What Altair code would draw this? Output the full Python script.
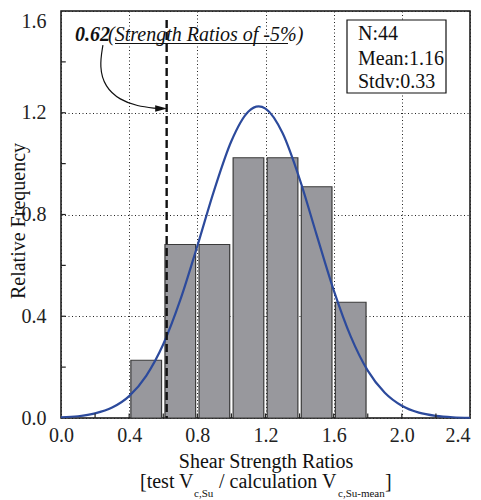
import altair as alt
import pandas as pd

# ---------------- data ----------------
bin_start = [0.4, 0.6, 0.8, 1.0, 1.2, 1.4, 1.6]
bin_end = [0.6, 0.8, 1.0, 1.2, 1.4, 1.6, 1.8]
rel_freq = [0.227, 0.682, 0.682, 1.023, 1.023, 0.909, 0.455]

curve_x = [0.0, 0.1, 0.2, 0.3, 0.4, 0.5, 0.6, 0.7, 0.8, 0.9, 1.0, 1.1, 1.16,
           1.2, 1.3, 1.4, 1.5, 1.6, 1.7, 1.8, 1.9, 2.0, 2.1, 2.2, 2.3, 2.4]
curve_y = [0.003, 0.007, 0.018, 0.041, 0.086, 0.166, 0.29, 0.464, 0.676, 0.898,
           1.089, 1.205, 1.225, 1.216, 1.12, 0.94, 0.72, 0.503, 0.321, 0.186,
           0.099, 0.048, 0.021, 0.0085, 0.003, 0.001]

x_major = [0.0, 0.4, 0.8, 1.2, 1.6, 2.0, 2.4]
y_major = [0.0, 0.4, 0.8, 1.2, 1.6]
x_minor = [0.2, 0.4, 0.6, 0.8, 1.0, 1.2, 1.4, 1.6, 1.8, 2.0, 2.2]
y_minor = [0.2, 0.4, 0.6, 0.8, 1.0, 1.2, 1.4]

p05_value = 0.62
p05_top = 1.565

arrow_x = [0.246, 0.225, 0.258, 0.346, 0.446, 0.563]
arrow_y = [1.466, 1.380, 1.301, 1.250, 1.226, 1.217]
arrow_tip = (0.588, 1.217)

stats_lines = ["N:44", "Mean:1.16", "Stdv:0.33"]

# ---------------- styling ----------------
FONT = "Times New Roman, Liberation Serif, DejaVu Serif, serif"
W, H = 409, 407
BAR_GAP = 0.01
TICK_X_LEN = 0.018
TICK_Y_LEN = 0.028
XS = alt.Scale(domain=[0, 2.4], nice=False, zero=False)
YS = alt.Scale(domain=[0, 1.6], nice=False, zero=False)

AX = alt.Axis(values=x_major, format=".1f", title=None, grid=True, gridDash=[1, 2.5],
              gridColor="#222", gridWidth=1, ticks=False, domain=False, labelFlush=False,
              labelAlign={"condition": {"test": "datum.value >= 2.39", "value": "right"}, "value": "center"},
              labelFont=FONT, labelFontSize=20, labelColor="#222", labelPadding=7)
AY = alt.Axis(values=y_major, format=".1f", title=None, grid=True, gridDash=[1, 2.5],
              gridColor="#222", gridWidth=1, ticks=False, domain=False, labelFlush=False,
              labelBaseline={"condition": {"test": "datum.value >= 1.59", "value": "top"}, "value": "middle"},
              labelFont=FONT, labelFontSize=20, labelColor="#222", labelPadding=15)

bars_df = pd.DataFrame({
    "x0": [s + BAR_GAP for s in bin_start],
    "x1": [e - BAR_GAP for e in bin_end],
    "h": rel_freq,
    "b": [0.0] * len(rel_freq),
})
bars = alt.Chart(bars_df).mark_rect(fill="#98989d", stroke="#3a3a3a", strokeWidth=1.2).encode(
    x=alt.X("x0:Q", scale=XS, axis=AX),
    x2="x1:Q",
    y=alt.Y("h:Q", scale=YS, axis=AY),
    y2="b:Q",
)

curve = alt.Chart(pd.DataFrame({"cx": curve_x, "cy": curve_y})).mark_line(
    color="#2c4a9c", strokeWidth=2.2, interpolate="monotone").encode(
    x=alt.X("cx:Q", scale=XS, axis=AX),
    y=alt.Y("cy:Q", scale=YS, axis=AY),
)

dash = alt.Chart(pd.DataFrame({"v": [p05_value], "t": [p05_top], "b": [0.0]})).mark_rule(
    color="#111", strokeWidth=2.4, strokeDash=[8, 4]).encode(
    x=alt.X("v:Q", scale=XS, axis=AX),
    y=alt.Y("t:Q", scale=YS, axis=AY),
    y2="b:Q",
)

arrow = alt.Chart(pd.DataFrame({"ax": arrow_x, "ay": arrow_y, "i": list(range(len(arrow_x)))})).mark_line(
    color="#111", strokeWidth=1.2, interpolate="basis").encode(
    x=alt.X("ax:Q", scale=XS, axis=AX),
    y=alt.Y("ay:Q", scale=YS, axis=AY),
    order="i:Q",
)
head = alt.Chart(pd.DataFrame({"hx": [arrow_tip[0]], "hy": [arrow_tip[1]]})).mark_point(
    shape="M-1,-0.55L1,0L-1,0.55Z", size=144, filled=True, color="#111", opacity=1).encode(
    x=alt.X("hx:Q", scale=XS, axis=AX),
    y=alt.Y("hy:Q", scale=YS, axis=AY),
)

xt = alt.Chart(pd.DataFrame({"v": x_minor, "a": [0.0] * len(x_minor), "e": [TICK_X_LEN] * len(x_minor)})).mark_rule(
    color="#222", strokeWidth=1.2).encode(
    x=alt.X("v:Q", scale=XS, axis=AX), y=alt.Y("e:Q", scale=YS, axis=AY), y2="a:Q")
yt = alt.Chart(pd.DataFrame({"v": y_minor, "a": [0.0] * len(y_minor), "e": [TICK_Y_LEN] * len(y_minor)})).mark_rule(
    color="#222", strokeWidth=1.2).encode(
    y=alt.Y("v:Q", scale=YS, axis=AY), x=alt.X("e:Q", scale=XS, axis=AX), x2="a:Q")

one = pd.DataFrame({"a": [0]})

def txt(s, x, y, size=20, **kw):
    return alt.Chart(one).mark_text(text=s, font=FONT, fontSize=size, align="left",
                                    baseline="alphabetic", color="#111", **kw).encode(
        x=alt.value(x), y=alt.value(y))

ann1 = txt("0.62", 14, 30, size=20, fontWeight="bold", fontStyle="italic")
ann2 = txt("(Strength Ratios of -5%)", 47, 30, size=20, fontStyle="italic")
underline = alt.Chart(one).mark_rule(color="#111", strokeWidth=1).encode(
    x=alt.value(54), x2=alt.value(227), y=alt.value(32.5))

box = alt.Chart(one).mark_rect(fill="white", stroke="#111", strokeWidth=1.2).encode(
    x=alt.value(286), x2=alt.value(385), y=alt.value(9), y2=alt.value(82))
s1 = txt(stats_lines[0], 297, 29)
s2 = txt(stats_lines[1], 297, 54)
s3 = txt(stats_lines[2], 297, 77)

ytitle = alt.Chart(one).mark_text(text="Relative Frequency", font=FONT, fontSize=20, angle=270,
                                  align="center", baseline="alphabetic", color="#111").encode(
    x=alt.value(-36), y=alt.value(210))
xtitle = alt.Chart(one).mark_text(text="Shear Strength Ratios", font=FONT, fontSize=20,
                                  align="center", baseline="alphabetic", color="#111").encode(
    x=alt.value(205), y=alt.value(457))
l2a = txt("[test V", 79, 477)
l2b = txt("c,Su", 133, 486, size=11)
l2c = txt("/ calculation V", 158, 477)
l2d = txt("c,Su-mean", 277, 486, size=11)
l2e = txt("]", 324, 477)

chart = alt.layer(
    bars, curve, dash, arrow, head, xt, yt, ann1, ann2, underline,
    box, s1, s2, s3, ytitle, xtitle, l2a, l2b, l2c, l2d, l2e,
).properties(
    width=W, height=H,
    autosize=alt.AutoSizeParams(type="none"),
    padding={"left": 53, "top": 3, "right": 3, "bottom": 82},
).configure_view(stroke="#111", strokeWidth=1.5
).configure_axis(labelFont=FONT
).configure_text(font=FONT)

chart.save("out.html", embed_options={"renderer": "svg", "actions": False})
